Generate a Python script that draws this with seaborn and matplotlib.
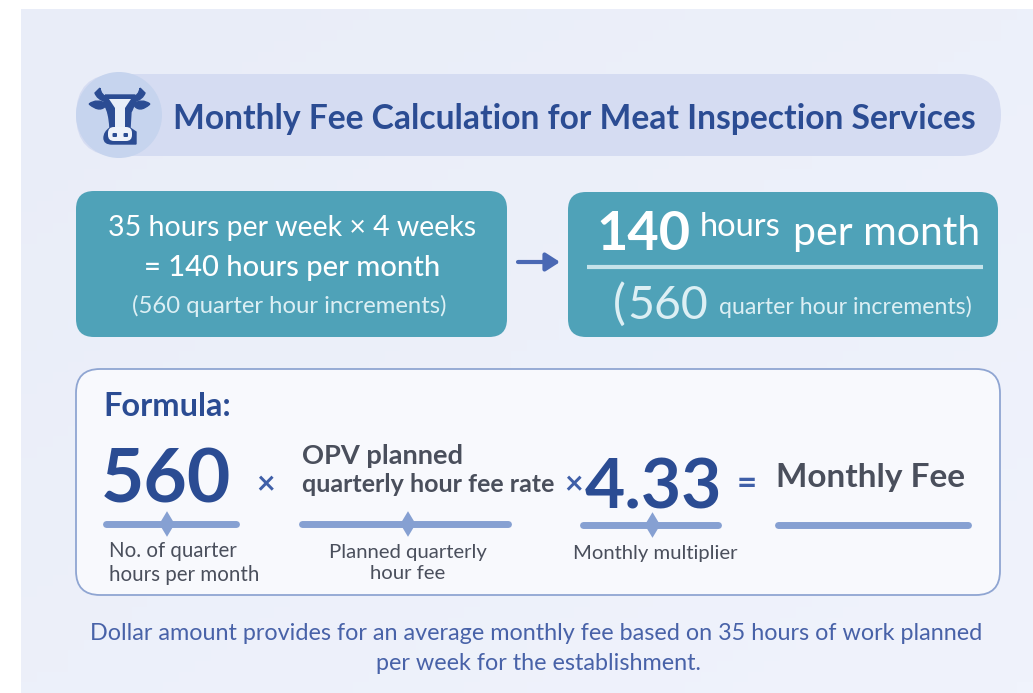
import matplotlib
matplotlib.use("Agg")
import matplotlib.pyplot as plt
import numpy as np
import pandas as pd
import seaborn as sns
from matplotlib.patches import Circle, FancyBboxPatch, PathPatch
from matplotlib.path import Path

# text of the infographic
title = "Monthly Fee Calculation for Meat Inspection Services"
left_lines = ["35 hours per week × 4 weeks", "= 140 hours per month", "(560 quarter hour increments)"]
hours_month = 140
quarter_hours = 560
multiplier = 4.33
rate_lines = ["OPV planned", "quarterly hour fee rate"]
result_label = "Monthly Fee"
caption_labels = ["No. of quarter\nhours per month", "Planned quarterly\nhour fee", "Monthly multiplier"]
footnote = ["Dollar amount provides for an average monthly fee based on 35 hours of work planned",
            "per week for the establishment."]

NAVY = "#2B4C93"
TEAL = "#4FA2B8"
RULE = "#86A0D2"
GREY = "#4A4F5C"
PALE = "#DCEFF4"

sns.set_theme(style="white")
plt.rcParams["font.family"] = ["Lato", "DejaVu Sans"]

fig = plt.figure(figsize=(10.33, 6.93), dpi=100, facecolor="white")
ax = fig.add_axes([0, 0, 1, 1])
ax.set_xlim(0, 1033)
ax.set_ylim(693, 0)
ax.axis("off")


def box(x0, y0, x1, y1, r, **kw):
    p = FancyBboxPatch((x0 + r, y0 + r), x1 - x0 - 2 * r, y1 - y0 - 2 * r,
                       boxstyle=f"round,pad={r},rounding_size={r}", **kw)
    ax.add_patch(p)


def label(x, y, s, size, color, weight="normal", ha="center", **kw):
    ax.text(x, y, s, fontsize=size, color=color, fontweight=weight, ha=ha, va="center", **kw)


# background panel, slightly lighter towards the lower right
grad = np.linspace(0, 1, 64)[None, :] + np.linspace(0, 1, 64)[:, None]
ax.imshow(grad, extent=(21, 1033, 693, 9), cmap=sns.blend_palette(["#E9EDF8", "#F0F3FC"], as_cmap=True),
          aspect="auto", zorder=0)
ax.set_xlim(0, 1033)
ax.set_ylim(693, 0)

# title band with cow badge
box(76, 74, 1001, 156, 41, fc="#D5DCF2", ec="none", zorder=1)
ax.add_patch(Circle((119, 115), 43, fc="#C6D4EE", ec="none", zorder=2))
label(574, 119, title, 24.2, NAVY, "bold")

# cow head
C = Path.CURVE3
L = Path.LINETO
M = Path.MOVETO
head = Path([(105, 95), (135, 95), (135, 106), (131, 112), (130, 128), (136, 132), (136, 138), (136, 144), (128, 144),
             (112, 144), (104, 144), (104, 138), (104, 132), (110, 128), (109, 112), (105, 106), (105, 95)],
            [M, L, C, C, L, L, C, C, C, L, C, C, C, L, C, C, L])
ax.add_patch(PathPatch(head, fc=NAVY, ec=NAVY, lw=1, zorder=3))
face = Path([(109, 99), (131, 99), (125, 108), (125, 128), (115, 128), (115, 108), (109, 99)],
            [M, L, L, L, L, L, L])
ax.add_patch(PathPatch(face, fc="#E8EEF8", ec="none", zorder=4))
box(108, 127, 132, 141, 6, fc="#EEF2FA", ec="none", zorder=4)
ax.add_patch(PathPatch(Path([(100, 88), (101, 96), (108, 97), (106, 102), (97, 99), (95, 93), (100, 88)],
                            [M, C, C, L, C, C, L]), fc=NAVY, ec=NAVY, zorder=3))
ax.add_patch(PathPatch(Path([(140, 88), (139, 96), (132, 97), (134, 102), (143, 99), (145, 93), (140, 88)],
                            [M, C, C, L, C, C, L]), fc=NAVY, ec=NAVY, zorder=3))
ax.add_patch(PathPatch(Path([(89, 104), (97, 98), (107, 104), (101, 114), (89, 104)], [M, C, C, C, C]),
                       fc=NAVY, ec=NAVY, zorder=3))
ax.add_patch(PathPatch(Path([(150, 104), (142, 98), (133, 104), (139, 114), (150, 104)], [M, C, C, C, C]),
                       fc=NAVY, ec=NAVY, zorder=3))
box(112.5, 133, 117, 137, 1, fc=NAVY, ec="none", zorder=5)
box(123.5, 133, 128, 137, 1, fc=NAVY, ec="none", zorder=5)

# teal boxes
box(76, 191, 507, 337, 18, fc=TEAL, ec="none", zorder=1)
box(568, 192, 998, 337, 18, fc=TEAL, ec="none", zorder=1)
label(292, 228, left_lines[0], 20.5, "white")
label(292, 268, left_lines[1], 21, "white", "medium")
label(289, 306, left_lines[2], 17.2, PALE)

# arrow between the boxes
ax.annotate("", xy=(560, 262), xytext=(518, 262), zorder=3,
            arrowprops=dict(arrowstyle="-|>,head_length=0.7,head_width=0.45", color="#4A68B4", lw=3,
                            shrinkA=0, shrinkB=0))

label(596, 235, str(hours_month), 39, "white", "bold", ha="left")
label(700, 227, "hours", 23.5, "white", ha="left")
label(793, 234, "per month", 29.5, "white", ha="left")
label(613, 304, "(", 35, PALE, ha="left")
label(627, 306, str(quarter_hours), 33.5, PALE, ha="left")
label(719, 307, "quarter hour increments)", 16.7, PALE, ha="left")
ax.plot([587, 983], [267, 267], color="#C5E3EA", lw=3, zorder=3, solid_capstyle="butt")

# formula card
box(76, 369, 1000, 595, 24, fc="#F8F9FD", ec="#8FA5D2", lw=1.3, zorder=1)
label(103, 406, "Formula:", 23.4, NAVY, "bold", ha="left")
label(101, 481, str(quarter_hours), 54, NAVY, "bold", ha="left")
label(266, 485, "×", 23, "#3F5FA8", "bold")
label(302, 456, rate_lines[0], 19.6, GREY, "bold", ha="left")
label(302, 485, rate_lines[1], 18, GREY, "bold", ha="left")
label(573, 485, "×", 23, "#3F5FA8", "bold")
label(585, 489, str(multiplier), 50, NAVY, "bold", ha="left")
label(747, 484, "=", 25, "#3F5FA8", "bold")
label(776, 478, result_label, 24, GREY, "bold", ha="left")

# rules under the formula terms, drawn as long-form segments
rules = pd.DataFrame({
    "term": ["a", "a", "b", "b", "c", "c", "d", "d"],
    "x": [106, 236, 302, 508, 583, 718, 778, 968],
    "y": [524, 524, 524, 524, 525, 525, 525, 525],
})
sns.lineplot(data=rules, x="x", y="y", units="term", estimator=None, color=RULE, lw=5, ax=ax,
             legend=False, zorder=3, solid_capstyle="round")
knots = rules[rules["term"] != "d"].groupby("term", as_index=False).mean()
knots["x"] = knots["x"] - 4 * (knots["term"] == "a") + 3 * (knots["term"] == "b") + 2 * (knots["term"] == "c")
sns.scatterplot(data=knots, x="x", y="y", marker="d", s=170, color=RULE, edgecolor="none", ax=ax,
                legend=False, zorder=4)
ax.set_xlabel("")
ax.set_ylabel("")

label(109, 563, caption_labels[0], 14.8, GREY, ha="left", linespacing=1.28)
label(408, 563, caption_labels[1], 14.6, GREY, ha="center", linespacing=1.28)
label(655, 553, caption_labels[2], 14.6, GREY)

# footnote
label(536, 633, footnote[0], 16.8, "#4862A8")
label(538, 663, footnote[1], 16.8, "#4862A8")

fig.savefig("out.png", dpi=100, facecolor="white")
